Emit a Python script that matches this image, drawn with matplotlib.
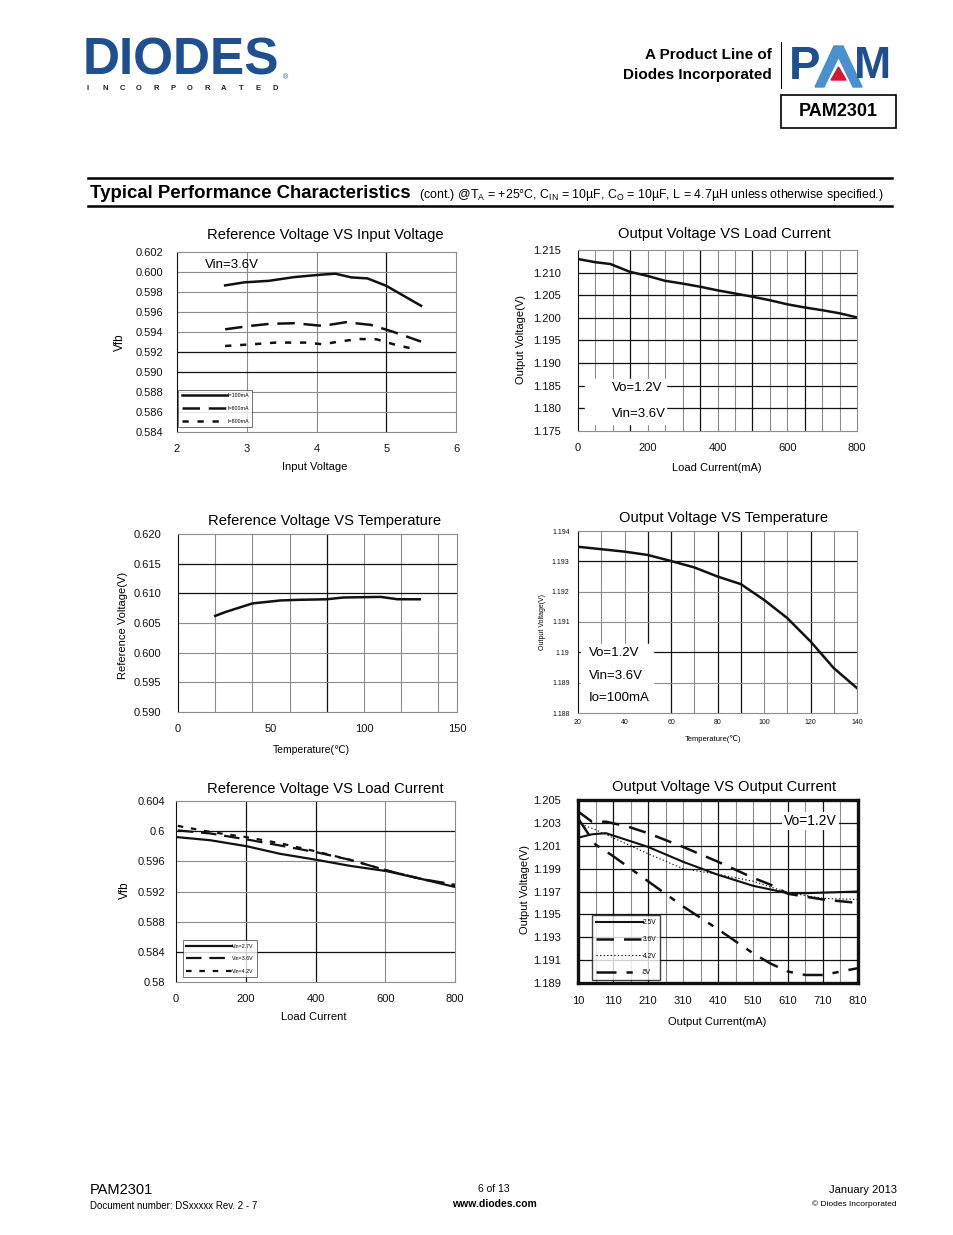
import numpy as np
import matplotlib
matplotlib.use("Agg")
import matplotlib.pyplot as plt
from matplotlib.patches import Rectangle, Polygon

plt.rcParams['font.family'] = ['Liberation Sans', 'DejaVu Sans']
plt.rcParams['mathtext.fontset'] = 'custom'
plt.rcParams['mathtext.rm'] = 'Liberation Sans'
plt.rcParams['mathtext.it'] = 'Liberation Sans'

W, H = 954, 1235
fig = plt.figure(figsize=(W / 100, H / 100), dpi=100)

# ---------------- data ----------------
# Chart 1: Reference Voltage VS Input Voltage
c1_x_100 = [2.69, 2.96, 3.32, 3.68, 4.06, 4.27, 4.50, 4.73, 5.00, 5.50]
c1_y_100 = [0.59866, 0.59896, 0.59912, 0.59949, 0.59973, 0.59983, 0.59946, 0.59936, 0.59862, 0.59662]
c1_x_600 = [2.69, 3.05, 3.32, 3.68, 4.09, 4.42, 4.78, 5.09, 5.50]
c1_y_600 = [0.59427, 0.59461, 0.59481, 0.59488, 0.59461, 0.59498, 0.59471, 0.59404, 0.59304]
c1_x_800 = [2.69, 3.14, 3.41, 3.86, 4.09, 4.32, 4.60, 4.86, 5.14, 5.40]
c1_y_800 = [0.59260, 0.59280, 0.59294, 0.59294, 0.59277, 0.59304, 0.59330, 0.59327, 0.59270, 0.59230]
c1_labels = ['I=100mA', 'I=600mA', 'I=800mA']

# Chart 2: Output Voltage VS Load Current
c2_x = [0, 50, 93, 148, 198, 249, 298, 349, 399, 449, 499, 550, 600, 650, 700, 751, 800]
c2_y = [1.2130, 1.2123, 1.2119, 1.2102, 1.2093, 1.2082, 1.2076, 1.2069, 1.2061, 1.2054,
        1.2047, 1.2039, 1.2030, 1.2023, 1.2017, 1.2010, 1.2001]

# Chart 3: Reference Voltage VS Temperature
c3_x = [20, 26, 33, 40, 46, 55, 64, 80, 89, 109, 118, 130]
c3_y = [0.6062, 0.6069, 0.6076, 0.6083, 0.6085, 0.6088, 0.6089, 0.6090, 0.6093, 0.6094, 0.6090, 0.6090]

# Chart 4: Output Voltage VS Temperature
c4_x = [20, 30, 40, 50, 60, 70, 80, 90, 100, 110, 120, 130, 140]
c4_y = [1.19348, 1.19340, 1.19332, 1.19321, 1.19301, 1.19280, 1.19250, 1.19225, 1.19173,
        1.19113, 1.19036, 1.18948, 1.18882]

# Chart 5: Reference Voltage VS Load Current
c5_x = [5, 98, 203, 298, 403, 499, 604, 700, 800]
c5_y_27 = [0.5992, 0.5988, 0.5980, 0.5970, 0.5962, 0.5954, 0.5947, 0.5937, 0.5926]
c5_y_36 = [0.6001, 0.5997, 0.5989, 0.5981, 0.5972, 0.5962, 0.5948, 0.5937, 0.5929]
c5_y_42 = [0.6007, 0.5999, 0.5992, 0.5984, 0.5973, 0.5962, 0.5948, 0.5937, 0.5928]
c5_labels = ['Vin=2.7V', 'Vin=3.6V', 'Vin=4.2V']

# Chart 6: Output Voltage VS Output Current
c6_x_25 = [10, 50, 90, 210, 310, 410, 510, 610, 660, 810]
c6_y_25 = [1.2017, 1.2020, 1.2021, 1.2009, 1.1996, 1.19846, 1.1975, 1.19685, 1.19685, 1.1970]
c6_x_36 = [10, 50, 90, 150, 210, 310, 410, 510, 560, 610, 710, 810]
c6_y_36 = [1.2040, 1.2031, 1.2031, 1.2027, 1.2021, 1.2009, 1.1996, 1.1982, 1.1976, 1.1968, 1.1963, 1.1960]
c6_x_42 = [10, 60, 110, 210, 310, 410, 510, 610, 710, 810]
c6_y_42 = [1.2030, 1.2024, 1.2017, 1.2003, 1.1990, 1.1985, 1.1979, 1.1969, 1.1964, 1.1963]
c6_x_5 = [10, 60, 110, 210, 310, 410, 510, 560, 610, 660, 710, 760, 810]
c6_y_5 = [1.2034, 1.2011, 1.2001, 1.1979, 1.1957, 1.1937, 1.1916, 1.1907, 1.1900, 1.1897, 1.1897, 1.1900, 1.1903]
c6_labels = ['2.5V', '3.6V', '4.2V', '5V']


def fx(x):
    return x / W


def fy(y):
    return 1 - y / H


def px_axes(l, t, r, b):
    return fig.add_axes([l / W, 1 - b / H, (r - l) / W, (b - t) / H])


def ftext(x, y, s, **kw):
    kw.setdefault('va', 'center')
    return fig.text(fx(x), fy(y), s, **kw)


GRAY = '#8c8c8c'
TITLE_FS = 10.6


def setup(ax, xlim, ylim, xt, xtl, yt, ytl, vgrid, hgrid, dark_v, dark_h, fs=8, pad_x=9, pad_y=10,
          spine_color=GRAY, spine_lw=0.8, dark_left=True):
    ax.set_xlim(*xlim)
    ax.set_ylim(*ylim)
    ax.set_xticks(xt)
    ax.set_xticklabels(xtl)
    ax.set_yticks(yt)
    ax.set_yticklabels(ytl)
    ax.tick_params(length=0, labelsize=fs, colors='#111111')
    ax.tick_params(axis='x', pad=pad_x)
    ax.tick_params(axis='y', pad=pad_y)
    for v in vgrid:
        ax.axvline(v, color='#111111' if v in dark_v else GRAY, lw=0.9 if v in dark_v else 0.8, zorder=0.5)
    for h in hgrid:
        ax.axhline(h, color='#111111' if h in dark_h else GRAY, lw=0.9 if h in dark_h else 0.8, zorder=0.5)
    for s in ax.spines.values():
        s.set_color(spine_color)
        s.set_linewidth(spine_lw)
    if dark_left:
        ax.spines['left'].set_color('#111111')


# ---------------- header ----------------
blue = '#1d4f91'
ftext(83, 61, 'DIODES', fontsize=37, fontweight='bold', color=blue, ha='left',
      family='Liberation Sans')
fig.add_artist(plt.Line2D([fx(84), fx(282)], [fy(63), fy(63)], color='white', lw=1.6))
ftext(283, 78, '®', fontsize=5, color=blue, ha='left')
for i, ch in enumerate('INCORPORATED'):
    ftext(88 + i * 17.0, 89, ch, fontsize=5.5, fontweight='bold', color='#222222', ha='center')

ftext(772, 55, 'A Product Line of', fontsize=11, fontweight='bold', ha='right')
ftext(772, 75, 'Diodes Incorporated', fontsize=11, fontweight='bold', ha='right')
fig.add_artist(plt.Line2D([fx(781.5), fx(781.5)], [fy(42), fy(88)], color='black', lw=0.8))
# PAM logo
ftext(789, 67, 'P', fontsize=34, fontweight='bold', color=blue, ha='left')
lam = [(815, 87), (834, 46), (843, 46), (862, 87), (853, 87), (838.5, 57), (824, 87)]
fig.add_artist(Polygon([[fx(a), fy(b)] for a, b in lam], closed=True, color='#4a8fd0',
                       transform=fig.transFigure))
fig.add_artist(Polygon([[fx(831), fy(80)], [fx(846), fy(80)], [fx(838.5), fy(67)]],
                       closed=True, color='#d7172f', transform=fig.transFigure))
ftext(854, 67, 'M', fontsize=32, fontweight='bold', color=blue, ha='left')
fig.add_artist(Rectangle((fx(781), fy(128)), (896 - 781) / W, (128 - 95) / H, fill=False,
                         ec='black', lw=1.2, transform=fig.transFigure))
ftext(838, 112, 'PAM2301', fontsize=13, fontweight='bold', ha='center')

fig.add_artist(plt.Line2D([fx(88), fx(892)], [fy(178), fy(178)], color='black', lw=1.8))
fig.add_artist(plt.Line2D([fx(88), fx(892)], [fy(206), fy(206)], color='black', lw=1.8))
ftext(90, 193, 'Typical Performance Characteristics', fontsize=13.4, fontweight='bold', ha='left')
ftext(419, 195, r'(cont.) @T$_\mathrm{A}$ = +25°C, C$_\mathrm{IN}$ = 10µF, C$_\mathrm{O}$ = 10µF, '
      r'L = 4.7µH unless otherwise specified.)', fontsize=8.9, ha='left')

# ---------------- Chart 1 ----------------
ax1 = px_axes(177, 252, 456, 432)
yt1 = [0.584 + 0.002 * i for i in range(10)]
setup(ax1, (2, 6), (0.584, 0.602), [2, 3, 4, 5, 6], ['2', '3', '4', '5', '6'],
      yt1, ['%.3f' % v for v in yt1], [3, 4, 5], yt1[1:-1], [5], [yt1[3], yt1[4]])
ax1.plot(c1_x_100, c1_y_100, color='#111111', lw=1.8, label=c1_labels[0])
ax1.plot(c1_x_600, c1_y_600, color='#111111', lw=1.8, dashes=(7, 3.5), label=c1_labels[1])
ax1.plot(c1_x_800, c1_y_800, color='#111111', lw=1.8, dashes=(2.5, 3.5), label=c1_labels[2])
lg = ax1.legend(loc='lower left', bbox_to_anchor=(0.0, 0.02), fontsize=3.8, handlelength=8.6,
                frameon=True, fancybox=False, edgecolor='#333333', borderpad=0.7, labelspacing=1.45,
                handletextpad=0.0, borderaxespad=0.2)
lg.get_frame().set_linewidth(0.6)
ax1.text(0.10, 0.93, 'Vin=3.6V', transform=ax1.transAxes, fontsize=9.5, va='center', ha='left')
ftext(325, 235, 'Reference Voltage VS Input Voltage', fontsize=TITLE_FS, ha='center')
ftext(120, 342, 'Vfb', fontsize=8.5, rotation=90, ha='center')
ftext(315, 467, 'Input Voltage', fontsize=8, ha='center')

# ---------------- Chart 2 ----------------
ax2 = px_axes(578, 250, 857, 431)
yt2 = [1.175 + 0.005 * i for i in range(9)]
vg2 = list(range(50, 800, 50))
setup(ax2, (0, 800), (1.175, 1.215), [0, 200, 400, 600, 800], ['0', '200', '400', '600', '800'],
      yt2, ['%.3f' % v for v in yt2], vg2, yt2[1:-1], [150, 350, 500, 650], yt2, pad_y=12)
ax2.plot(c2_x, c2_y, color='#111111', lw=1.8)
ax2.add_patch(Rectangle((0.025, 0.04), 0.29, 0.25, transform=ax2.transAxes, color='white', zorder=1))
ax2.text(0.12, 0.235, 'Vo=1.2V', transform=ax2.transAxes, fontsize=9.5, va='center', zorder=2)
ax2.text(0.12, 0.095, 'Vin=3.6V', transform=ax2.transAxes, fontsize=9.5, va='center', zorder=2)
ftext(724, 234, 'Output Voltage VS Load Current', fontsize=TITLE_FS, ha='center')
ftext(521, 340, 'Output Voltage(V)', fontsize=8, rotation=90, ha='center')
ftext(717, 468, 'Load Current(mA)', fontsize=8, ha='center')

# ---------------- Chart 3 ----------------
ax3 = px_axes(178, 534, 457, 712)
yt3 = [0.590 + 0.005 * i for i in range(7)]
setup(ax3, (0, 150), (0.590, 0.620), [0, 50, 100, 150], ['0', '50', '100', '150'],
      yt3, ['%.3f' % v for v in yt3], [20, 40, 60, 80, 100, 120, 140], yt3[1:-1], [80],
      [yt3[4], yt3[5]], pad_y=12)
ax3.plot(c3_x, c3_y, color='#111111', lw=1.8)
ftext(325, 521, 'Reference Voltage VS Temperature', fontsize=TITLE_FS, ha='center')
ftext(123, 625, 'Reference Voltage(V)', fontsize=8, rotation=90, ha='center')
ftext(311, 750, 'Temperature(℃)', fontsize=7.5, ha='center')

# ---------------- Chart 4 ----------------
ax4 = px_axes(578, 531, 857, 713)
yt4 = [1.188, 1.189, 1.190, 1.191, 1.192, 1.193, 1.194]
setup(ax4, (20, 140), (1.188, 1.194), list(range(20, 141, 20)), [str(v) for v in range(20, 141, 20)],
      yt4, ['1.188', '1.189', '1.19', '1.191', '1.192', '1.193', '1.194'], list(range(30, 140, 10)),
      yt4[1:-1], [50, 60, 80, 90, 120], [yt4[2], yt4[5]], fs=5, pad_x=4, pad_y=6)
ax4.plot(c4_x, c4_y, color='#111111', lw=1.8)
ax4.add_patch(Rectangle((0.01, 0.005), 0.26, 0.375, transform=ax4.transAxes, color='white', zorder=1))
ax4.text(0.04, 0.33, 'Vo=1.2V', transform=ax4.transAxes, fontsize=9.5, va='center', zorder=2)
ax4.text(0.04, 0.205, 'Vin=3.6V', transform=ax4.transAxes, fontsize=9.5, va='center', zorder=2)
ax4.text(0.04, 0.08, 'Io=100mA', transform=ax4.transAxes, fontsize=9.5, va='center', zorder=2)
ftext(724, 518, 'Output Voltage VS Temperature', fontsize=TITLE_FS, ha='center')
ftext(543, 622, 'Output Voltage(V)', fontsize=5, rotation=90, ha='center')
ftext(713, 739, 'Temperature(℃)', fontsize=5.5, ha='center')

# ---------------- Chart 5 ----------------
ax5 = px_axes(176, 801, 455, 982)
yt5 = [0.580, 0.584, 0.588, 0.592, 0.596, 0.600, 0.604]
setup(ax5, (0, 800), (0.580, 0.604), [0, 200, 400, 600, 800], ['0', '200', '400', '600', '800'],
      yt5, ['0.58', '0.584', '0.588', '0.592', '0.596', '0.6', '0.604'], [200, 400, 600],
      yt5[1:-1], [200, 400], [yt5[1], yt5[5]], pad_y=8)
ax5.plot(c5_x, c5_y_27, color='#111111', lw=1.6, label=c5_labels[0])
ax5.plot(c5_x, c5_y_36, color='#111111', lw=1.6, dashes=(7, 3.5), label=c5_labels[1])
ax5.plot(c5_x, c5_y_42, color='#111111', lw=1.6, dashes=(2.5, 3.5), label=c5_labels[2])
lg5 = ax5.legend(loc='lower left', bbox_to_anchor=(0.02, 0.02), fontsize=3.8, handlelength=8.6,
                 frameon=True, fancybox=False, edgecolor='#333333', borderpad=0.7, labelspacing=1.4,
                 handletextpad=0.0, borderaxespad=0.2)
lg5.get_frame().set_linewidth(0.6)
ftext(325, 789, 'Reference Voltage VS Load Current', fontsize=TITLE_FS, ha='center')
ftext(125, 890, 'Vfb', fontsize=8.5, rotation=90, ha='center')
ftext(314, 1017, 'Load Current', fontsize=8, ha='center')

# ---------------- Chart 6 ----------------
ax6 = px_axes(578, 800, 858, 983)
yt6 = [1.189 + 0.002 * i for i in range(9)]
setup(ax6, (10, 810), (1.189, 1.205), list(range(10, 811, 100)), [str(v) for v in range(10, 811, 100)],
      yt6, ['%.3f' % v for v in yt6], list(range(60, 810, 50)), yt6[1:-1],
      [110, 210, 410, 610, 710], yt6, pad_y=12, spine_color='#111111', spine_lw=2.4)
ax6.plot(c6_x_25, c6_y_25, color='#111111', lw=1.5, label=c6_labels[0])
ax6.plot(c6_x_36, c6_y_36, color='#111111', lw=1.8, dashes=(7, 4), label=c6_labels[1])
ax6.plot(c6_x_42, c6_y_42, color='#111111', lw=0.8, dashes=(1.2, 2), label=c6_labels[2])
ax6.plot(c6_x_5, c6_y_5, color='#111111', lw=1.8, dashes=(8, 4, 2.5, 4), label=c6_labels[3])
lg6 = ax6.legend(loc='lower left', bbox_to_anchor=(0.05, 0.015), fontsize=4.8, handlelength=7.0,
                 frameon=True, fancybox=False, edgecolor='#111111', borderpad=0.6, labelspacing=1.45,
                 handletextpad=0.0, borderaxespad=0.0)
lg6.get_frame().set_linewidth(1.0)
ax6.text(0.735, 0.885, 'Vo=1.2V', transform=ax6.transAxes, fontsize=10, va='center',
         bbox=dict(facecolor='white', edgecolor='none', pad=1.5), zorder=3)
ftext(724, 787, 'Output Voltage VS Output Current', fontsize=TITLE_FS, ha='center')
ftext(525, 890, 'Output Voltage(V)', fontsize=8, rotation=90, ha='center')
ftext(717, 1022, 'Output Current(mA)', fontsize=8, ha='center')

# ---------------- footer ----------------
ftext(90, 1190, 'PAM2301', fontsize=10.5, ha='left')
ftext(90, 1206, 'Document number: DSxxxxx Rev. 2 - 7', fontsize=7, ha='left')
ftext(494, 1189, '6 of 13', fontsize=7.5, ha='center')
ftext(494, 1204, 'www.diodes.com', fontsize=7.5, fontweight='bold', ha='center')
ftext(897, 1190, 'January 2013', fontsize=8, ha='right')
ftext(897, 1204, '© Diodes Incorporated', fontsize=6, ha='right')

fig.savefig('out.png', dpi=100, facecolor='white')
